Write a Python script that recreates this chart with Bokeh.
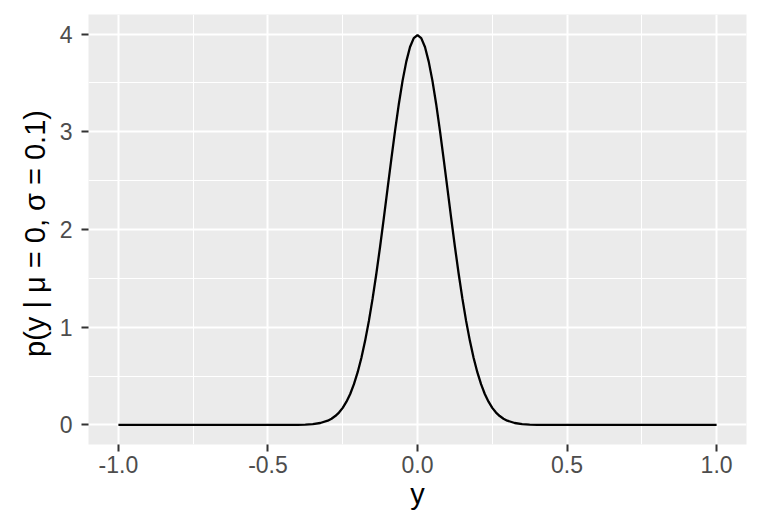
from bokeh.plotting import figure
from bokeh.models import FixedTicker, Range1d
from bokeh.embed import file_html
from bokeh.resources import INLINE

# Density curve p(y | mu=0, sigma=0.1)
y_vals = [-1.0, -0.75, -0.5, -0.45, -0.4, -0.375, -0.35, -0.325, -0.3, -0.2875, -0.275, -0.2625,
          -0.25, -0.2375, -0.225, -0.2125, -0.2, -0.1875, -0.175, -0.1625, -0.15, -0.1375,
          -0.125, -0.1125, -0.1, -0.0875, -0.075, -0.0625, -0.05, -0.0375, -0.025, -0.0125,
          0.0, 0.0125, 0.025, 0.0375, 0.05, 0.0625, 0.075, 0.0875, 0.1, 0.1125, 0.125, 0.1375,
          0.15, 0.1625, 0.175, 0.1875, 0.2, 0.2125, 0.225, 0.2375, 0.25, 0.2625, 0.275, 0.2875,
          0.3, 0.325, 0.35, 0.375, 0.4, 0.45, 0.5, 0.75, 1.0]
density = [0.0, 0.0, 0.0, 0.0002, 0.001, 0.004, 0.009, 0.020, 0.044, 0.064, 0.091, 0.127,
           0.175, 0.238, 0.317, 0.417, 0.540, 0.688, 0.863, 1.065, 1.295, 1.550,
           1.826, 2.119, 2.420, 2.721, 3.011, 3.282, 3.521, 3.718, 3.867, 3.958,
           3.989, 3.958, 3.867, 3.718, 3.521, 3.282, 3.011, 2.721, 2.420, 2.119, 1.826, 1.550,
           1.295, 1.065, 0.863, 0.688, 0.540, 0.417, 0.317, 0.238, 0.175, 0.127, 0.091, 0.064,
           0.044, 0.020, 0.009, 0.004, 0.001, 0.0002, 0.0, 0.0, 0.0]

x_ticks = [-1.0, -0.5, 0.0, 0.5, 1.0]
x_tick_labels = ["-1.0", "-0.5", "0.0", "0.5", "1.0"]
x_minor = [-0.75, -0.25, 0.25, 0.75]
y_ticks = [0, 1, 2, 3, 4]
y_tick_labels = ["0", "1", "2", "3", "4"]
y_minor = [0.5, 1.5, 2.5, 3.5]

FONT = "Liberation Sans"

p = figure(width=752, height=512, output_backend="svg", toolbar_location=None,
           x_range=Range1d(-1.1, 1.1), y_range=Range1d(-0.2, 4.2),
           min_border_left=88, min_border_right=6, min_border_top=14, min_border_bottom=68)

p.background_fill_color = "#EBEBEB"
p.border_fill_color = "white"
p.outline_line_color = None

p.line(x=y_vals, y=density, line_color="black", line_width=2.3)

p.xaxis.ticker = FixedTicker(ticks=x_ticks, minor_ticks=x_minor)
p.yaxis.ticker = FixedTicker(ticks=y_ticks, minor_ticks=y_minor)
p.xaxis.major_label_overrides = {t: l for t, l in zip(x_ticks, x_tick_labels)}
p.yaxis.major_label_overrides = {t: l for t, l in zip(y_ticks, y_tick_labels)}

for ax in (p.xaxis, p.yaxis):
    ax.axis_line_color = None
    ax.major_tick_line_color = "#333333"
    ax.major_tick_line_width = 2
    ax.major_tick_out = 7
    ax.major_tick_in = 0
    ax.minor_tick_line_color = None
    ax.major_label_text_color = "#4D4D4D"
    ax.major_label_text_font = FONT
    ax.major_label_text_font_size = "23px"
    ax.axis_label_text_font = FONT
    ax.axis_label_text_font_size = "29px"
    ax.axis_label_text_font_style = "normal"
    ax.axis_label_text_color = "black"

p.xaxis.axis_label = "y"
p.yaxis.axis_label = "p(y | μ = 0,  σ = 0.1)"
p.xaxis.major_label_standoff = 4
p.yaxis.major_label_standoff = 9
p.xaxis.axis_label_standoff = 2
p.yaxis.axis_label_standoff = 6

p.xgrid.ticker = p.xaxis.ticker
p.ygrid.ticker = p.yaxis.ticker
for g in (p.xgrid, p.ygrid):
    g.grid_line_color = "white"
    g.grid_line_width = 2
    g.minor_grid_line_color = "white"
    g.minor_grid_line_width = 1

open("out.html", "w").write(file_html(p, INLINE))
